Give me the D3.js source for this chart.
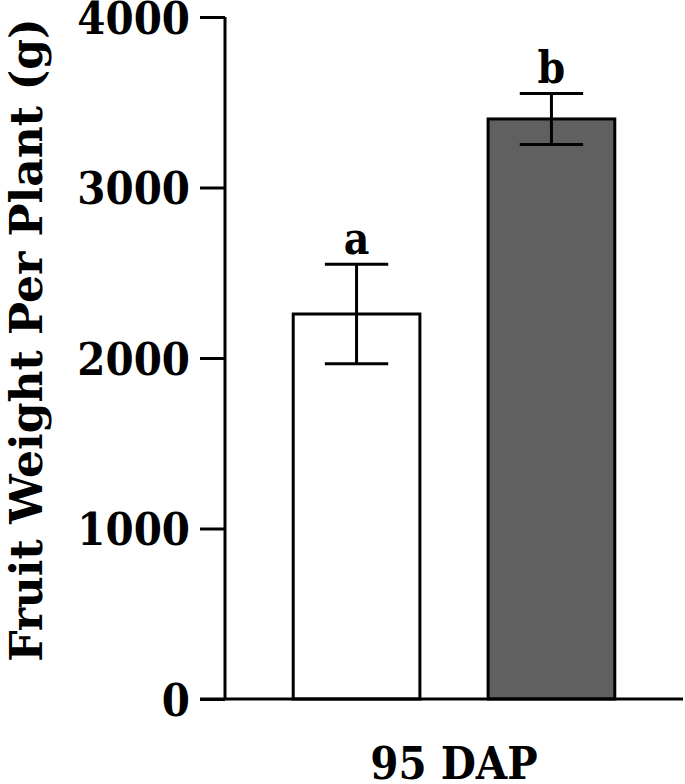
<!DOCTYPE html>
<html><head><meta charset="utf-8">
<script src="https://cdn.jsdelivr.net/npm/d3@7/dist/d3.min.js"></script>
<style>body{margin:0;background:#fff}</style>
</head><body>
<svg id="c" width="685" height="784"></svg>
<script>
const categories = ["Control", "Treatment"];
const values = [2258, 3402];
const errors = [292, 150];
const letters = ["a", "b"];
const fills = ["#ffffff", "#606060"];
const yTicks = [0, 1000, 2000, 3000, 4000];
const xLabel = "95 DAP";
const yLabel = "Fruit Weight Per Plant (g)";

const font = "'DejaVu Serif Condensed', 'DejaVu Serif', serif";
const svg = d3.select("#c");
const y = d3.scaleLinear().domain([0, 4000]).range([699, 17]);
const x = d3.scaleBand().domain(categories).range([225, 683]).paddingInner(0.35).paddingOuter(0.35);

// bars
svg.selectAll("rect.bar").data(categories).join("rect")
  .attr("x", d => x(d)).attr("width", x.bandwidth())
  .attr("y", (d,i) => y(values[i])).attr("height", (d,i) => y(0) - y(values[i]))
  .attr("fill", (d,i) => fills[i]).attr("stroke", "#000").attr("stroke-width", 3);

// error bars
const capW = x.bandwidth() * 0.5;
categories.forEach((c, i) => {
  const cx = x(c) + x.bandwidth() / 2;
  const g = svg.append("g").attr("stroke", "#000").attr("stroke-width", 3);
  g.append("line").attr("x1", cx).attr("x2", cx).attr("y1", y(values[i] + errors[i])).attr("y2", y(values[i] - errors[i]));
  g.append("line").attr("x1", cx - capW/2).attr("x2", cx + capW/2).attr("y1", y(values[i] + errors[i])).attr("y2", y(values[i] + errors[i]));
  g.append("line").attr("x1", cx - capW/2).attr("x2", cx + capW/2).attr("y1", y(values[i] - errors[i])).attr("y2", y(values[i] - errors[i]));
  svg.append("text").attr("x", cx).attr("y", y(values[i] + errors[i]) - 10)
    .attr("text-anchor", "middle").attr("font-family", font).attr("font-weight", "bold")
    .attr("font-size", 44).text(letters[i]);
});

// y axis
const yAxis = svg.append("g").attr("transform", "translate(225,0)")
  .call(d3.axisLeft(y).tickValues(yTicks).tickFormat(d3.format("d")).tickSize(25).tickPadding(10));
yAxis.select(".domain").attr("stroke-width", 3).attr("d", `M0,${y(4000)}V${y(0)}`);
yAxis.selectAll(".tick line").attr("stroke-width", 3);
yAxis.selectAll(".tick text").attr("font-family", font).attr("font-weight", "bold").attr("font-size", 45).attr("fill", "#000").attr("dy", "0.36em");

// x baseline
svg.append("line").attr("x1", 200).attr("x2", 683).attr("y1", y(0)).attr("y2", y(0))
  .attr("stroke", "#000").attr("stroke-width", 3);

// x label
svg.append("text").attr("x", (x(categories[0]) + x(categories[1]) + x.bandwidth()) / 2).attr("y", 779)
  .attr("text-anchor", "middle").attr("font-family", font).attr("font-weight", "bold").attr("font-size", 45).text(xLabel);

// y label
svg.append("text").attr("transform", "translate(42,340) rotate(-90)")
  .attr("text-anchor", "middle").attr("font-family", "'DejaVu Serif', serif").attr("font-weight", "bold").attr("font-size", 44).text(yLabel);
</script>
</body></html>
